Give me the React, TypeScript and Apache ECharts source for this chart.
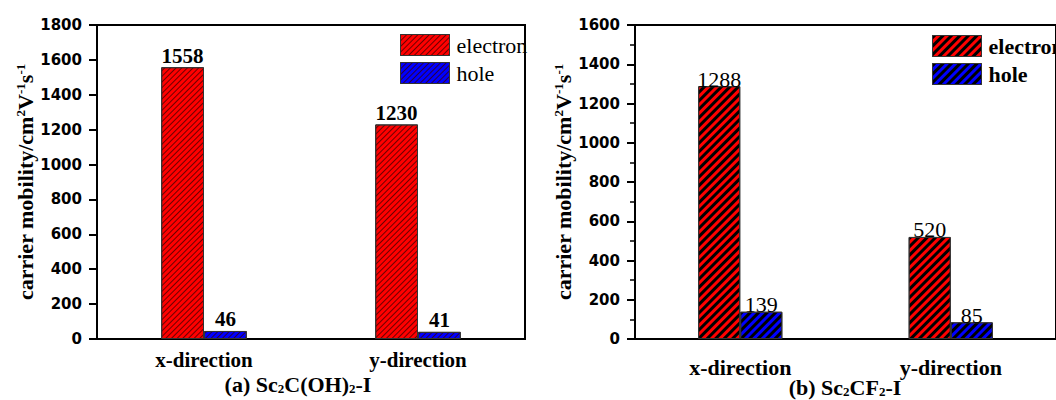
import React, { useEffect, useRef } from 'react';
import * as echarts from 'echarts';

const categories = ['x-direction', 'y-direction'];
const seriesNames = ['electron', 'hole'];
const electronA = [1558, 1230];
const holeA = [46, 41];
const electronB = [1288, 520];
const holeB = [139, 85];
const yRangeA = [0, 1800, 200];
const yRangeB = [0, 1600, 200];
const titleA = '{b|(a) Sc}{s|2}{b|C(OH)}{s|2}{b|-I}';
const titleB = '{b|(b) Sc}{s|2}{b|CF}{s|2}{b|-I}';
const yName = '{b|carrier mobility/cm}{sup|2}{b|V}{sup|-1}{b|s}{sup|-1}';

const SERIF = '"Liberation Serif", "Times New Roman", serif';
const SANS = '"DejaVu Sans", sans-serif';
const RED = '#ff0000';
const BLUE = '#0000ff';

const fineDecal = {
  symbol: 'rect',
  symbolSize: 1,
  dashArrayX: [1, 0],
  dashArrayY: [1, 3],
  rotation: -Math.PI / 4,
  color: 'rgba(60,0,0,0.75)',
};
const thickDecal = {
  symbol: 'rect',
  symbolSize: 1,
  dashArrayX: [1, 0],
  dashArrayY: [2.5, 3],
  rotation: -Math.PI / 4,
  color: '#000',
};

const nameRich = {
  b: { fontFamily: SERIF, fontWeight: 'bold', fontSize: 22, color: '#000', lineHeight: 22 },
  sup: { fontFamily: SERIF, fontWeight: 'bold', fontSize: 13, color: '#000', lineHeight: 4, verticalAlign: 'top' },
};
const titleRich = {
  b: { fontFamily: SERIF, fontWeight: 'bold', fontSize: 22, color: '#000', lineHeight: 22 },
  s: { fontFamily: SERIF, fontWeight: 'bold', fontSize: 13, color: '#000', lineHeight: 4, verticalAlign: 'bottom' },
};

function yAxis(grid: number, range: number[], minor: boolean) {
  return {
    gridIndex: grid,
    type: 'value',
    min: range[0],
    max: range[1],
    interval: range[2],
    splitLine: { show: false },
    axisLine: { show: true, lineStyle: { color: '#000', width: 2 } },
    axisTick: { show: true, length: 8, lineStyle: { color: '#000', width: 2 } },
    minorTick: { show: minor, splitNumber: 2, length: 5, lineStyle: { color: '#000', width: 1.5 } },
    axisLabel: {
      fontFamily: SANS,
      fontWeight: 'bold',
      fontSize: 15,
      color: '#000',
      margin: 15,
      formatter: (v: number) => String(v),
    },
    name: yName,
    nameLocation: 'middle',
    nameRotate: 90,
    nameGap: 52,
    nameTextStyle: { rich: nameRich },
  };
}

function xAxis(grid: number, margin: number, size: number) {
  return {
    gridIndex: grid,
    type: 'category',
    data: categories,
    axisTick: { show: false },
    axisLine: { lineStyle: { color: '#000', width: 2 } },
    axisLabel: { fontFamily: SERIF, fontWeight: 'bold', fontSize: size, color: '#000', margin },
  };
}

function bar(name: string, data: number[], grid: number, color: string, decal: any, bold: boolean, dist: number) {
  return {
    type: 'bar',
    name,
    xAxisIndex: grid,
    yAxisIndex: grid,
    data,
    barGap: '0%',
    barCategoryGap: '60%',
    itemStyle: { color, borderColor: '#333', borderWidth: 1, decal },
    label: {
      show: true,
      position: 'top',
      distance: dist,
      fontFamily: SERIF,
      fontWeight: bold ? 'bold' : 'normal',
      fontSize: bold ? 21 : 22,
      color: '#000',
    },
  };
}

function legend(left: number, top: number, decal: any, bold: boolean) {
  return {
    orient: 'vertical',
    left,
    top,
    icon: 'rect',
    itemWidth: 49,
    itemHeight: 21,
    itemGap: 6,
    selectedMode: false,
    textStyle: { fontFamily: SERIF, fontWeight: bold ? 'bold' : 'normal', fontSize: 22, color: '#000', padding: [0, 0, 0, 2] },
    data: [
      { name: seriesNames[0], itemStyle: { color: RED, decal, borderColor: '#333', borderWidth: 1 } },
      { name: seriesNames[1], itemStyle: { color: BLUE, decal, borderColor: '#333', borderWidth: 1 } },
    ],
  };
}

export default function App() {
  const ref = useRef<HTMLDivElement>(null);
  useEffect(() => {
    if (!ref.current) return;
    const chart = echarts.init(ref.current, null, { renderer: 'svg' });
    chart.setOption({
      animation: false,
      backgroundColor: '#fff',
      grid: [
        { left: 97, top: 25, width: 428, height: 314, show: true, borderColor: '#000', borderWidth: 2, backgroundColor: 'transparent' },
        { left: 635, top: 25, width: 428, height: 314, show: true, borderColor: '#000', borderWidth: 2, backgroundColor: 'transparent' },
      ],
      legend: [legend(395, 29, fineDecal, false), legend(927, 30, thickDecal, true)],
      xAxis: [xAxis(0, 10, 21), xAxis(1, 17, 22)],
      yAxis: [yAxis(0, yRangeA, false), yAxis(1, yRangeB, true)],
      series: [
        bar(seriesNames[0], electronA, 0, RED, fineDecal, true, 1),
        bar(seriesNames[1], holeA, 0, BLUE, fineDecal, true, 1),
        bar(seriesNames[0], electronB, 1, RED, thickDecal, false, -4),
        bar(seriesNames[1], holeB, 1, BLUE, thickDecal, false, -4),
      ],
      graphic: [
        { type: 'text', x: 298, y: 384, style: { text: titleA, rich: titleRich, align: 'center', verticalAlign: 'middle' } },
        { type: 'text', x: 845, y: 387, style: { text: titleB, rich: titleRich, align: 'center', verticalAlign: 'middle' } },
      ],
    });
    return () => chart.dispose();
  }, []);
  return <div ref={ref} style={{ position: 'absolute', left: 0, top: 0, width: 1056, height: 400, background: '#fff' }} />;
}
